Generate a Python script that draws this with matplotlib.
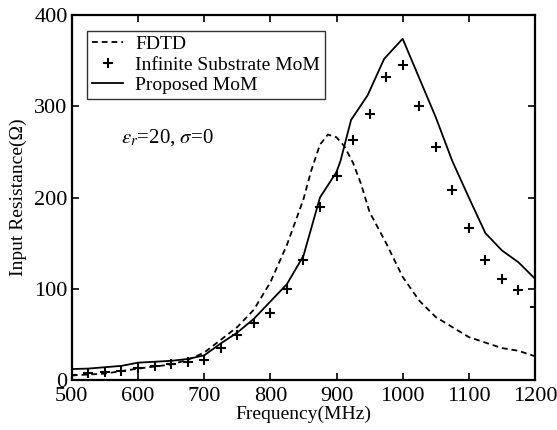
import matplotlib
matplotlib.use("Agg")
import matplotlib.pyplot as plt

plt.rcParams['font.family'] = ['Liberation Serif', 'DejaVu Serif']
plt.rcParams['mathtext.fontset'] = 'stix'

# FDTD (dashed)
fdtd_f = [500, 550, 600, 650, 675, 700, 725, 750, 775, 800, 825, 850, 862, 875, 887,
          900, 912, 925, 937, 950, 975, 1000, 1025, 1050, 1075, 1100, 1125, 1150, 1175, 1200]
fdtd_r = [5, 7, 12.5, 17, 22, 30, 44, 58, 77, 107, 148, 198, 230, 258, 269,
          266, 256, 238, 215, 184, 150, 113, 87, 69, 58, 47, 41, 35, 32, 26]

# Infinite substrate MoM (markers)
inf_f = [500, 525, 550, 575, 600, 625, 650, 675, 700, 725, 750, 775, 800, 825, 850,
         875, 900, 925, 950, 975, 1000, 1025, 1050, 1075, 1100, 1125, 1150, 1175, 1200]
inf_r = [6, 8, 9, 10, 13, 15, 18, 20, 22, 35, 49, 62, 73, 100, 131,
         190, 224, 263, 292, 332, 345, 300, 255, 208, 167, 131, 111, 99, 80]

# Proposed MoM (solid)
prop_f = [500, 525, 550, 575, 600, 625, 650, 675, 700, 725, 750, 775, 800, 825, 850,
          875, 900, 906, 922, 947, 972, 1000, 1050, 1075, 1100, 1125, 1150, 1175, 1200]
prop_r = [12, 12.5, 14, 15.5, 19, 20, 21, 23, 27, 40, 52, 67, 86, 105, 136,
          200, 228, 240, 285, 312, 352, 374, 288, 240, 200, 161, 142, 129, 111]

xticks = [500, 600, 700, 800, 900, 1000, 1100, 1200]
yticks = [0, 100, 200, 300, 400]

fig = plt.figure(figsize=(5.57, 4.30), dpi=100)
ax = fig.add_axes([0.129, 0.1163, 0.8315, 0.8487])

ax.plot(fdtd_f, fdtd_r, 'k--', lw=1.3, dashes=(3.2, 2.2), label='FDTD')
ax.plot(inf_f, inf_r, 'k+', ms=7, mew=1.5, linestyle='none', label='Infinite Substrate MoM')
ax.plot(prop_f, prop_r, 'k-', lw=1.3, label='Proposed MoM')

ax.set_xlim(500, 1200)
ax.set_ylim(0, 400)
ax.set_xticks(xticks)
ax.set_yticks(yticks)
ax.tick_params(direction='in', length=5, width=1.2, top=True, right=True,
               labelsize=16)
ax.tick_params(axis='x', pad=5)
ax.tick_params(axis='y', pad=3)
for s in ax.spines.values():
    s.set_linewidth(1.6)

ax.set_xlabel('Frequency(MHz)', fontsize=14, labelpad=0)
ax.set_ylabel('Input Resistance(Ω)', fontsize=14, labelpad=5)

leg = ax.legend(loc='upper left', fontsize=14, frameon=True, fancybox=False,
                edgecolor='black', borderaxespad=0.8, handlelength=1.6,
                handletextpad=0.6, labelspacing=0.15, borderpad=0.25)
leg.get_frame().set_linewidth(1.0)

ax.text(575, 260, r'$\varepsilon_r$=20, $\sigma$=0', fontsize=15)

fig.savefig('out.png', dpi=100)
